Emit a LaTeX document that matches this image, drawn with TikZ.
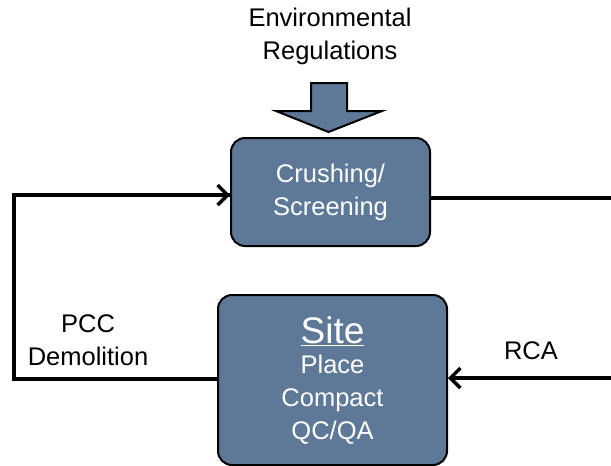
\documentclass[tikz,border=0pt]{standalone}
\usepackage{fontspec}
\setmainfont{Liberation Sans}
\usetikzlibrary{arrows.meta}
\definecolor{boxblue}{RGB}{94,120,151}
\tikzset{
  procbox/.style={draw=black, line width=2pt, fill=boxblue, rounded corners=14pt,
    text=white, align=center, inner sep=0pt, font=\fontsize{25.5}{33}\selectfont},
  flow/.style={line width=4.5pt, line cap=butt},
  lbl/.style={align=center, font=\fontsize{25.5}{33}\selectfont},
  barb/.tip={Straight Barb[length=10pt,width=20pt,line width=3.5pt]}
}
\begin{document}
\begin{tikzpicture}[x=1pt,y=-1pt]
\useasboundingbox (0,0) rectangle (611,466);
% blocks
\node[procbox, minimum width=199pt, minimum height=108pt]
  (crush) at (330.5,192) {Crushing/\\Screening};
\node[procbox, minimum width=229pt, minimum height=170pt]
  (site) at (332.5,380) {{\fontsize{37}{38}\selectfont\underline{Site}}\\[-3pt]Place\\Compact\\QC/QA};
% regulation input
\node[lbl] (regs) at (330,36) {Environmental\\Regulations};
\draw[line width=2pt, fill=boxblue, line join=miter]
  (311,83) -- (347,83) -- (347,111) -- (382,111) -- (328.5,132) -- (276,111) -- (311,111) -- cycle;
% loop
\coordinate (lc) at (14,379);
\coordinate (rt) at (613,198);
\coordinate (rb) at (613,378);
\draw[flow] (site.west |- lc) -- (lc) |- (crush.west |- 0,195);
\draw[flow, -barb] (150,195) -- (crush.west |- 0,195);
\draw[flow] (crush.east |- rt) -- (rt);
\draw[flow, -barb] (rb) -- (site.east |- rb);
\node[lbl] (pcc) at (88,340) {PCC\\Demolition};
\node[lbl] (rca) at (531,351) {RCA};
\end{tikzpicture}
\end{document}
